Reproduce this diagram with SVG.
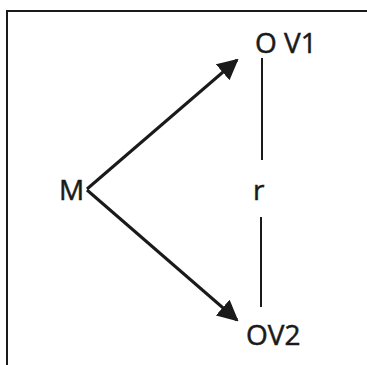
<svg xmlns="http://www.w3.org/2000/svg" width="367" height="365" viewBox="0 0 367 365">
<style>
.t{font-family:"Open Sans","Liberation Sans",sans-serif;font-size:28px;fill:#1a1a1a;stroke:#1a1a1a;stroke-width:0.5}
.c{stroke:#1a1a1a;stroke-width:3;fill:none}
.v{stroke:#1a1a1a;stroke-width:2;fill:none}
</style>
<defs>
<marker id="ah" viewBox="0 0 10 10" refX="9" refY="5" markerWidth="7" markerHeight="7" markerUnits="strokeWidth" orient="auto">
<path d="M0,0 L10,5 L0,10 z" fill="#1a1a1a"/>
</marker>
</defs>
<rect width="367" height="365" fill="#fff"/>
<path d="M7,365 V11 H367" stroke="#1a1a1a" stroke-width="2" fill="none"/>
<g id="connectors">
<line class="c" x1="87" y1="189" x2="237" y2="60" marker-end="url(#ah)"/>
<line class="c" x1="87" y1="190" x2="237" y2="320" marker-end="url(#ah)"/>
<line class="v" x1="262" y1="58" x2="262" y2="160"/>
<line class="v" x1="261" y1="217" x2="261" y2="307"/>
</g>
<g id="M"><text class="t" x="59" y="200">M</text></g>
<g id="OV1"><text class="t" x="255" y="53">O V1</text></g>
<g id="r"><text class="t" x="253" y="200">r</text></g>
<g id="OV2"><text class="t" x="246" y="345">OV2</text></g>
</svg>
